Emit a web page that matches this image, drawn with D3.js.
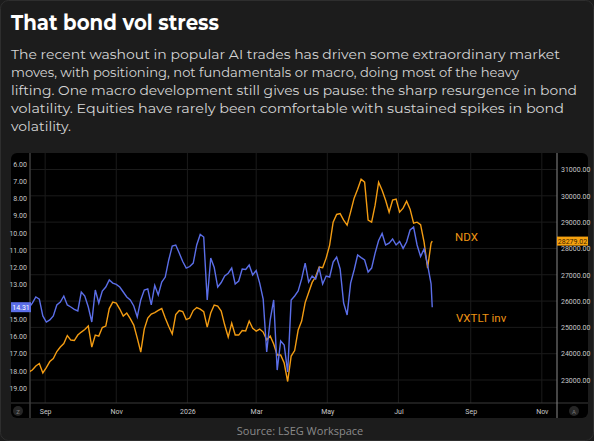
<!DOCTYPE html>
<html>
<head>
<meta charset="utf-8">
<script src="https://cdn.jsdelivr.net/npm/d3@7"></script>
<style>
  body { margin: 0; background: #1c1c1c; }
  svg { display: block; }
</style>
</head>
<body>
<svg id="chart" width="594" height="441"></svg>
<script>
// dates of the sampled points (roughly every 3 days)
var dates = ["2025-08-18","2025-08-21","2025-08-24","2025-08-27","2025-08-30",
  "2025-09-02","2025-09-05","2025-09-08","2025-09-11","2025-09-14","2025-09-17","2025-09-20","2025-09-23","2025-09-26","2025-09-29",
  "2025-10-02","2025-10-05","2025-10-08","2025-10-11","2025-10-14","2025-10-17","2025-10-20","2025-10-23","2025-10-26","2025-10-29",
  "2025-11-01","2025-11-04","2025-11-07","2025-11-10","2025-11-13","2025-11-16","2025-11-19","2025-11-22","2025-11-25","2025-11-28",
  "2025-12-01","2025-12-04","2025-12-07","2025-12-10","2025-12-13","2025-12-16","2025-12-19","2025-12-22","2025-12-25","2025-12-28","2025-12-31",
  "2026-01-03","2026-01-06","2026-01-09","2026-01-12","2026-01-15","2026-01-18","2026-01-21","2026-01-24","2026-01-27","2026-01-30",
  "2026-02-02","2026-02-05","2026-02-08","2026-02-11","2026-02-14","2026-02-17","2026-02-20","2026-02-23","2026-02-26",
  "2026-03-01","2026-03-04","2026-03-07","2026-03-10","2026-03-13","2026-03-16","2026-03-19","2026-03-22","2026-03-25","2026-03-28","2026-03-31",
  "2026-04-03","2026-04-06","2026-04-09","2026-04-12","2026-04-15","2026-04-18","2026-04-21","2026-04-24","2026-04-27","2026-04-30",
  "2026-05-03","2026-05-06","2026-05-09","2026-05-12","2026-05-15","2026-05-18","2026-05-21","2026-05-24","2026-05-27","2026-05-30",
  "2026-06-02","2026-06-05","2026-06-08","2026-06-11","2026-06-14","2026-06-17","2026-06-20","2026-06-23","2026-06-26","2026-06-29",
  "2026-07-02","2026-07-05","2026-07-08","2026-07-11","2026-07-14","2026-07-17","2026-07-20","2026-07-23","2026-07-26","2026-07-29","2026-07-30"];

// VXTLT, plotted on an inverted left axis
var vxtlt = [14.36,14.07,13.72,13.84,14.82,15.17,15.05,14.82,14.18,14.01,
  13.66,14.18,14.30,14.44,14.53,13.43,13.66,14.30,15.17,13.31,
  14.07,13.37,13.14,12.73,12.91,12.99,13.14,13.43,13.72,13.89,
  14.24,14.88,13.89,13.31,13.25,14.18,13.05,13.60,12.85,12.56,
  11.57,10.76,10.70,11.17,11.66,12.04,11.95,11.75,10.70,10.09,
  10.24,13.89,11.46,12.01,13.14,12.88,12.50,12.34,12.04,12.96,
  12.79,12.09,12.12,11.86,12.44,12.18,12.91,13.84,16.91,15.05,
  13.89,17.96,16.27,16.51,18.07,13.89,13.66,13.37,12.67,11.75,
  12.85,12.50,12.67,12.04,12.96,12.50,12.56,11.69,11.40,12.09,
  14.07,14.76,12.91,12.15,11.28,11.43,11.57,12.27,12.04,11.17,
  10.44,10.03,10.70,10.59,10.35,10.70,10.50,10.90,10.53,9.83,
  9.66,10.70,11.37,10.93,11.86,12.96,14.31];

// NDX on the right axis
var ndx = [23304,23379,23531,23626,23266,23474,23702,23816,24082,24253,
  24386,24689,24518,24499,24708,24822,24917,25050,24253,24708,
  24670,24993,25050,25715,25961,25923,25696,25430,25544,25335,
  25088,24594,24063,24936,25354,25506,25563,25646,25715,25354,
  25031,24746,25487,25639,25601,25297,25354,25639,25753,25696,
  25601,25012,25544,25847,25809,25620,25088,24632,25164,24708,
  24708,24879,24860,25240,24963,24860,24936,24822,24518,24670,
  24367,23949,23949,23645,22943,23911,24120,24898,25240,25942,
  26322,26709,26922,27290,27264,27632,28126,28999,29291,29322,
  29075,28885,29390,29910,30252,30632,30518,29075,28999,29644,
  30518,30214,29834,29379,29834,29872,29379,29531,29796,29493,
  28961,28999,28904,28240,27252,28202,28279.02];

var leftTicks = [6,7,8,9,10,11,12,13,14,15,16,17,18,19];
var rightTicks = [23000,24000,25000,26000,27000,28000,29000,30000,31000];
var monthTicks = ["2025-09-01","2025-11-01","2026-01-01","2026-03-01","2026-05-01","2026-07-01","2026-09-01","2026-11-01"];
var xDomain = ["2025-08-19","2026-11-14"];

var title = "That bond vol stress";
var subtitle = [
  "The recent washout in popular AI trades has driven some extraordinary market",
  "moves, with positioning, not fundamentals or macro, doing most of the heavy",
  "lifting. One macro development still gives us pause: the sharp resurgence in bond",
  "volatility. Equities have rarely been comfortable with sustained spikes in bond",
  "volatility."
];
var subWidths = [549, 508, 566, 553, 60];

var parse = d3.timeParse("%Y-%m-%d");
var blue = "#5b6ee8", orange = "#f39c12";

const svg = d3.select("#chart");
const W = 594, H = 441;
const plot = {left: 30, right: 557, top: 153, bottom: 403};

// page frame
svg.append("rect").attr("x", 0.5).attr("y", 0.5).attr("width", W - 1).attr("height", H - 1)
  .attr("rx", 8).attr("fill", "#1c1c1c").attr("stroke", "#2e2e2e");

svg.append("text").attr("x", 11).attr("y", 30)
  .attr("font-family", "Montserrat, 'Open Sans', sans-serif").attr("font-weight", 700)
  .attr("font-size", 21).attr("fill", "#fff")
  .attr("textLength", 208).attr("lengthAdjust", "spacingAndGlyphs")
  .text(title);

subtitle.forEach((line, i) => {
  svg.append("text").attr("x", 11).attr("y", 59 + i * 18)
    .attr("font-family", "Montserrat, 'Open Sans', sans-serif")
    .attr("font-size", 13.5).attr("fill", "#d6d6d6")
    .attr("textLength", subWidths[i]).attr("lengthAdjust", "spacingAndGlyphs")
    .text(line);
});

// black chart panel
svg.append("rect").attr("x", 11).attr("y", 153).attr("width", 577).attr("height", 265)
  .attr("rx", 6).attr("fill", "#000");

const x = d3.scaleTime().domain(xDomain.map(parse)).range([plot.left, plot.right]);
const yL = d3.scaleLinear().domain([6, 19]).range([164, 388]);
const yR = d3.scaleLinear().domain([23000, 31000]).range([380, 169.5]);

// grid
svg.append("g").selectAll("line").data(rightTicks).enter().append("line")
  .attr("x1", plot.left).attr("x2", plot.right)
  .attr("y1", d => yR(d)).attr("y2", d => yR(d))
  .attr("stroke", "#1b1b1b");
svg.append("g").selectAll("line").data(monthTicks).enter().append("line")
  .attr("x1", d => x(parse(d))).attr("x2", d => x(parse(d)))
  .attr("y1", plot.top).attr("y2", plot.bottom)
  .attr("stroke", "#1b1b1b");

// axes frame lines
svg.append("line").attr("x1", 11).attr("x2", 588).attr("y1", plot.bottom).attr("y2", plot.bottom).attr("stroke", "#3a3a3a");
svg.append("line").attr("x1", plot.left).attr("x2", plot.left).attr("y1", plot.top).attr("y2", 418).attr("stroke", "#3c3c3c").attr("stroke-width", 1.5);
svg.append("line").attr("x1", plot.right).attr("x2", plot.right).attr("y1", plot.top).attr("y2", 418).attr("stroke", "#8a8a8a");

var lastN = ndx[ndx.length - 1], lastV = vxtlt[vxtlt.length - 1];

// left axis (inverted vol); the tick hidden under the last-value tag is dropped
svg.append("g").attr("transform", `translate(${plot.left - 3},0)`)
  .call(d3.axisLeft(yL).tickValues(leftTicks.filter(d => Math.abs(yL(d) - yL(lastV)) > 9))
    .tickSize(0).tickPadding(0).tickFormat(d3.format(".2f")))
  .call(g => g.select(".domain").remove())
  .call(g => g.selectAll("text").attr("fill", "#c8c8c8").attr("font-size", 7).attr("font-family", "Roboto, sans-serif"));

// right axis
svg.append("g").attr("transform", `translate(${plot.right + 4},0)`)
  .call(d3.axisRight(yR).tickValues(rightTicks).tickSize(0).tickPadding(0).tickFormat(d3.format(".2f")))
  .call(g => g.select(".domain").remove())
  .call(g => g.selectAll("text").attr("fill", "#c8c8c8").attr("font-size", 7).attr("font-family", "Roboto, sans-serif"));

// bottom axis
svg.append("g").attr("transform", `translate(0,${plot.bottom})`)
  .call(d3.axisBottom(x).tickValues(monthTicks.map(parse)).tickSize(0).tickPadding(6)
    .tickFormat(d => d.getMonth() === 0 ? d3.timeFormat("%Y")(d) : d3.timeFormat("%b")(d)))
  .call(g => g.select(".domain").remove())
  .call(g => g.selectAll("text").attr("fill", "#c8c8c8").attr("font-size", 7).attr("font-family", "Roboto, sans-serif"));

// corner badges
[[18, "Z"], [574, "A"]].forEach(b => {
  svg.append("circle").attr("cx", b[0]).attr("cy", 411).attr("r", 5).attr("fill", "#262626");
  svg.append("text").attr("x", b[0]).attr("y", 413.5).attr("text-anchor", "middle")
    .attr("font-size", 6).attr("fill", "#777").attr("font-family", "Roboto, sans-serif").text(b[1]);
});

svg.append("clipPath").attr("id", "clip").append("rect")
  .attr("x", plot.left).attr("y", plot.top).attr("width", plot.right - plot.left).attr("height", plot.bottom - plot.top);

const lineL = d3.line().x((d, i) => x(parse(dates[i]))).y(d => yL(d));
const lineR = d3.line().x((d, i) => x(parse(dates[i]))).y(d => yR(d));

svg.append("path").datum(ndx).attr("d", lineR).attr("fill", "none")
  .attr("stroke", orange).attr("stroke-width", 1.4).attr("clip-path", "url(#clip)");
svg.append("path").datum(vxtlt).attr("d", lineL).attr("fill", "none")
  .attr("stroke", blue).attr("stroke-width", 1.4).attr("clip-path", "url(#clip)");

// series labels
svg.append("text").attr("x", 455).attr("y", 241).attr("font-size", 11.5)
  .attr("font-family", "Roboto, sans-serif").attr("fill", "#ee9414").text("NDX");
svg.append("text").attr("x", 456).attr("y", 321.5).attr("font-size", 11.5)
  .attr("font-family", "Roboto, sans-serif").attr("fill", "#ee9414").text("VXTLT inv");

// last value tags
svg.append("rect").attr("x", plot.right).attr("y", yR(lastN) - 4.5).attr("width", 31).attr("height", 9).attr("fill", "#f5a10f");
svg.append("text").attr("x", plot.right + 15.5).attr("y", yR(lastN) + 2.5).attr("text-anchor", "middle")
  .attr("font-size", 7).attr("font-family", "Roboto, sans-serif").attr("fill", "#3a2400").text(lastN.toFixed(2));
svg.append("rect").attr("x", 11).attr("y", yL(lastV) - 5).attr("width", 20).attr("height", 10).attr("fill", blue);
svg.append("text").attr("x", 21).attr("y", yL(lastV) + 2.5).attr("text-anchor", "middle")
  .attr("font-size", 7).attr("font-family", "Roboto, sans-serif").attr("fill", "#fff").text(lastV.toFixed(2));

svg.append("text").attr("x", 300).attr("y", 435).attr("text-anchor", "middle")
  .attr("font-size", 11).attr("font-family", "'Open Sans', sans-serif").attr("fill", "#8a8a8a")
  .text("Source: LSEG Workspace");
</script>
</body>
</html>
